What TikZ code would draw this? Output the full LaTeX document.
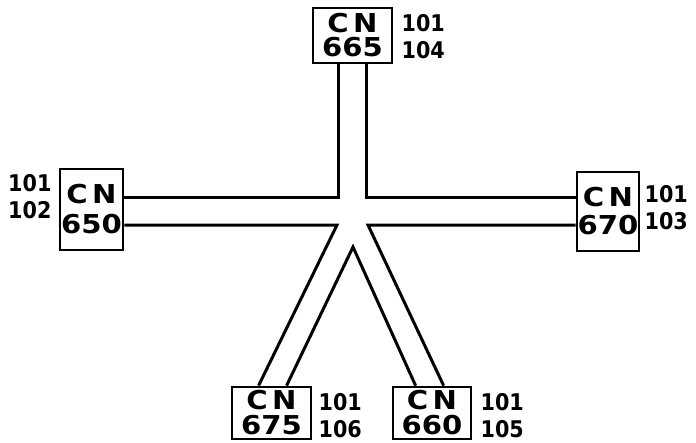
\documentclass[tikz,border=0pt]{standalone}
\usepackage{fontspec}
\newfontfamily\lettering[FakeStretch=1.12]{DejaVu Sans}
\newfontfamily\tagletter[FakeStretch=0.9]{DejaVu Sans}
\usepackage{tikz}
\usetikzlibrary{positioning}

\begin{document}
\begin{tikzpicture}[x=1pt,y=-1pt,
  cnbox/.style={draw=black,line width=2.8pt,inner sep=0pt,align=center,
    font=\lettering\bfseries\fontsize{26}{24}\selectfont},
  tag/.style={inner sep=0pt,align=left,font=\tagletter\bfseries\fontsize{23}{27}\selectfont},
  bus/.style={line width=3pt,line join=miter}]

\useasboundingbox (0,0) rectangle (696,442);

\node [cnbox,minimum width=79pt,minimum height=55pt] (cn665) at (352.5,35.5) {C\,N\\665};
\node [cnbox,minimum width=63pt,minimum height=81pt] (cn650) at (91.5,209.5) {C\,N\\[6pt]650};
\node [cnbox,minimum width=62pt,minimum height=79pt] (cn670) at (608,211.5) {C\,N\\[4pt]670};
\node [cnbox,minimum width=79pt,minimum height=52pt] (cn675) at (271.5,413) {C\,N\\[1pt]675};
\node [cnbox,minimum width=78pt,minimum height=52pt] (cn660) at (432,413) {C\,N\\[1pt]660};

\node [tag,right=8pt of cn665,yshift=-1pt] (t665) {101\\104};
\node [tag,left=7pt of cn650,yshift=13pt] (t650) {101\\102};
\node [tag,right=4pt of cn670,yshift=4pt] (t670) {101\\103};
\node [tag,right=6pt of cn675,yshift=-3pt] (t675) {101\\106};
\node [tag,right=8pt of cn660,yshift=-3pt] (t660) {101\\105};

% corners of the junction
\coordinate (ul) at (338,197);
\coordinate (ur) at (366,197);
\coordinate (ll) at (337,225);
\coordinate (lr) at (368,225);
\coordinate (vx) at (353,247);

\draw [bus] (cn665.south -| ul) -- (ul) -- (cn650.east |- ul);
\draw [bus] (cn665.south -| ur) -- (ur) -- (cn670.west |- ur);
\draw [bus] (cn650.east |- ll) -- (ll) -- ([xshift=28pt]cn675.north west);
\draw [bus] (cn670.west |- lr) -- (lr) -- ([xshift=52pt]cn660.north west);
\draw [bus] ([xshift=56pt]cn675.north west) -- (vx) -- ([xshift=24pt]cn660.north west);
\end{tikzpicture}
\end{document}
